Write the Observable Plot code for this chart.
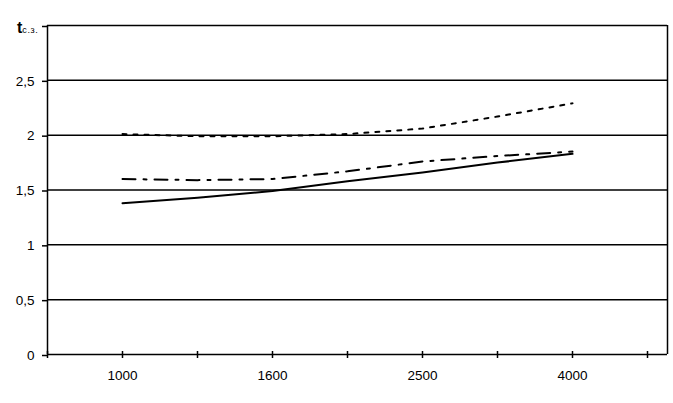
<!DOCTYPE html>
<html><head><meta charset="utf-8">
<script src="https://cdn.jsdelivr.net/npm/d3@7"></script>
<script src="https://cdn.jsdelivr.net/npm/@observablehq/plot@0.6"></script>
<style>body{margin:0;background:#fff}</style>
</head><body><div id="chart"></div>
<script>
const xLabels = ["1000", "1600", "2500", "4000"];
const xSteps = [0, 0.5, 1, 1.5, 2, 2.5, 3];
const dotted = [2.01, 1.99, 1.99, 2.01, 2.06, 2.17, 2.29];
const dashDot = [1.60, 1.59, 1.60, 1.67, 1.76, 1.81, 1.85];
const solid = [1.38, 1.43, 1.49, 1.58, 1.66, 1.75, 1.83];
const yTicks = [0, 0.5, 1, 1.5, 2, 2.5, 3];
const xTicks = [-0.5, 0, 0.5, 1, 1.5, 2, 2.5, 3, 3.5];
const xDomain = [-0.5, 3.5 + 20 / 150];

const rows = (vals) => xSteps.map((x, i) => ({x, y: vals[i]}));
const font = "Liberation Sans, Arial, sans-serif";

const chart = Plot.plot({
  width: 673, height: 403,
  marginLeft: 47, marginRight: 6, marginTop: 25, marginBottom: 49,
  style: {fontFamily: font, fontSize: "13px", color: "#000", background: "#fff"},
  x: {domain: xDomain, label: null},
  y: {domain: [0, 3], label: null},
  marks: [
    Plot.gridY(yTicks.slice(1), {stroke: "#000", strokeOpacity: 1, strokeWidth: 1.5}),
    Plot.ruleX([xDomain[0], xDomain[1]], {stroke: "#000", strokeWidth: 1.5}),
    Plot.ruleY([0], {stroke: "#000", strokeWidth: 1.5}),
    Plot.axisY(yTicks, {tickSize: 5, tickPadding: 8, stroke: "#000", strokeWidth: 1.5, fill: "#000",
      fontSize: 13.5, dy: 1, tickFormat: d => d === 3 ? "" : String(d).replace(".", ",")}),
    Plot.ruleX(xTicks, {y1: 0, y2: 0, insetTop: -3, insetBottom: -4, stroke: "#000", strokeWidth: 1.5}),
    Plot.axisX([0, 1, 2, 3], {tickSize: 0, tickPadding: 16, fill: "#000", fontSize: 13.5,
      tickFormat: i => xLabels[i]}),
    Plot.line(rows(dotted), {x: "x", y: "y", stroke: "#000", strokeWidth: 2, strokeDasharray: "4,7"}),
    Plot.line(rows(dashDot), {x: "x", y: "y", stroke: "#000", strokeWidth: 2, strokeDasharray: "13,8,3,8"}),
    Plot.line(rows(solid), {x: "x", y: "y", stroke: "#000", strokeWidth: 2})
  ]
});
document.getElementById("chart").appendChild(chart);

const svg = d3.select(chart);
const t = svg.append("text").attr("x", 17).attr("y", 33)
  .attr("text-anchor", "start")
  .style("text-anchor", "start").style("font-family", font).style("fill", "#000");
t.append("tspan").style("font-weight", "bold").style("font-size", "16px").text("t");
t.append("tspan").style("font-size", "9px").style("letter-spacing", "0.6px").text("с.з.");
</script>
</body></html>
